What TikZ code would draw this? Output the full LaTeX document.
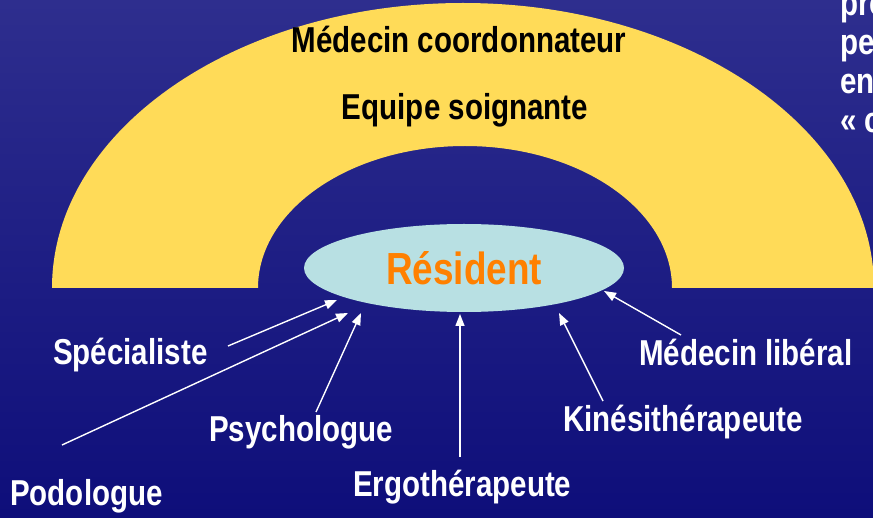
\documentclass[tikz,border=0pt]{standalone}
\usepackage{fontspec}
\setmainfont[FakeStretch=0.82]{Liberation Sans}
\usetikzlibrary{shapes.geometric, arrows.meta}
\definecolor{bgtop}{RGB}{46,46,142}
\definecolor{bgbot}{RGB}{14,14,122}
\definecolor{archyellow}{RGB}{255,219,88}
\definecolor{rescyan}{RGB}{184,224,227}
\definecolor{resorange}{RGB}{255,128,0}
\tikzset{
  >={Triangle[length=12pt,width=9pt]}, % filled arrow heads
  flow/.style={->, white, line width=1.4pt}, % arrows towards the resident
  role/.style={anchor=base west, inner sep=0pt, text=white, font=\bfseries\fontsize{36}{40}\selectfont},
  team/.style={anchor=base, inner sep=0pt, text=black, font=\bfseries\fontsize{36}{40}\selectfont},
}

\begin{document}
\begin{tikzpicture}[x=1pt, y=1pt]
  \clip (0,0) rectangle (873,517);
  \shade[top color=bgtop, bottom color=bgbot] (0,0) rectangle (873,517);

  % yellow arch
  \fill[archyellow] (52,229) arc[start angle=180, end angle=0, x radius=411, y radius=285]
    -- (672,229) arc[start angle=0, end angle=180, x radius=207, y radius=142] -- cycle;
  \node[team] (coord) at (459,464) {Médecin coordonnateur};
  \node[team] (equipe) at (465,397) {Equipe soignante};

  % resident
  \node[ellipse, fill=rescyan, minimum width=320pt, minimum height=88pt, inner sep=0pt,
        text=resorange, font=\bfseries\fontsize{45}{50}\selectfont] (res) at (464,249) {Résident};

  % text cut at the right edge
  \node[role] (side1) at (840,501) {pro};
  \node[role] (side2) at (840,462) {pe};
  \node[role] (side3) at (840,423) {en};
  \node[role] (side4) at (840,384) {« c};

  % other professionals
  \node[role] (spec) at (53,152) {Spécialiste};
  \node[role] (podo) at (10,12) {Podologue};
  \node[role] (psy) at (209,75) {Psychologue};
  \node[role] (ergo) at (353,20) {Ergothérapeute};
  \node[role] (kine) at (563,85) {Kinésithérapeute};
  \node[role] (lib) at (639,151) {Médecin libéral};

  \coordinate (spec-from) at (228,171);
  \coordinate (spec-to) at (337,217);
  \coordinate (podo-from) at (62,72);
  \coordinate (podo-to) at (348,204);
  \coordinate (psy-from) at (316,105);
  \coordinate (psy-to) at (361,204);
  \coordinate (ergo-from) at (460,60);
  \coordinate (ergo-to) at (460,203);
  \coordinate (kine-from) at (603,116);
  \coordinate (kine-to) at (559,204);
  \coordinate (lib-from) at (681,182);
  \coordinate (lib-to) at (604,226);

  \draw[flow] (spec-from) -- (spec-to);
  \draw[flow] (podo-from) -- (podo-to);
  \draw[flow] (psy-from) -- (psy-to);
  \draw[flow] (ergo-from) -- (ergo-to);
  \draw[flow] (kine-from) -- (kine-to);
  \draw[flow] (lib-from) -- (lib-to);
\end{tikzpicture}
\end{document}
